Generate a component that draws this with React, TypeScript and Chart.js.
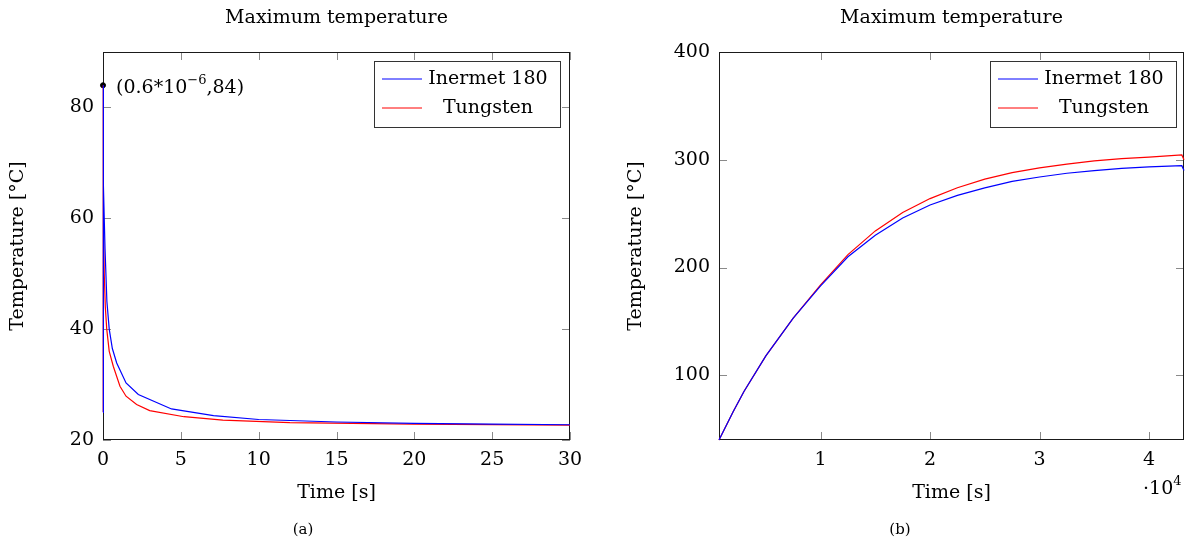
import React, { useEffect, useRef } from "react";
import { Chart, registerables } from "chart.js";
Chart.register(...registerables);

const FONT = "'DejaVu Serif', serif";
const FS = 19;

// ---------- (a) first 30 s ----------
const inermetTimeA = [0, 0.0000006, 0.05, 0.13, 0.25, 0.4, 0.6, 0.88, 1.48, 2.27, 4.4, 7.1, 10, 15, 20, 25, 30];
const inermetTempA = [25, 84, 66, 54.5, 45, 40, 36.5, 33.9, 30.3, 28.2, 25.6, 24.4, 23.7, 23.25, 23.0, 22.85, 22.75];
const tungstenTimeA = [0, 0.0000006, 0.03, 0.08, 0.15, 0.24, 0.4, 0.66, 1.09, 1.48, 2.16, 3.0, 5.2, 7.7, 12, 20, 30];
const tungstenTempA = [25, 84, 62, 50, 44, 40, 36, 33.3, 29.7, 27.9, 26.4, 25.3, 24.2, 23.6, 23.15, 22.85, 22.7];
const annotationPoint = [0.0000006, 84];
const xTicksA = [0, 5, 10, 15, 20, 25, 30];
const yTicksA = [20, 40, 60, 80];

// ---------- (b) 12 hours ----------
const timeB = [720, 2000, 3000, 5000, 7500, 10000, 12500, 15000, 17500, 20000, 22500, 25000, 27500, 30000, 32500, 35000, 37500, 40000, 43000, 43200];
const inermetTempB = [40, 66, 85, 118, 153, 183, 210, 230, 246, 258, 267, 274, 280, 284, 287.5, 290, 292, 293.5, 294.5, 290];
const tungstenTempB = [40, 66, 85, 118, 153, 184, 212, 234, 251, 264, 274, 282, 288, 292.5, 296, 299, 301, 302.5, 304.5, 300];
const xTicksB = [10000, 20000, 30000, 40000];
const xTickLabelsB = ["1", "2", "3", "4"];
const yTicksB = [100, 200, 300, 400];

const seriesNames = ["Inermet 180", "Tungsten"];
const seriesColors = ["#0000ff", "#ff0000"];
const chartTitle = "Maximum temperature";
const xAxisTitle = "Time [s]";
const yAxisTitle = "Temperature [°C]";

const zip = (xs: number[], ys: number[]) => xs.map((x, i) => ({ x, y: ys[i] }));

type Spec = {
  width: number;
  height: number;
  area: { left: number; top: number; right: number; bottom: number };
  datasets: any[];
  xMin: number; xMax: number; yMin: number; yMax: number;
  xTicks: number[]; xLabels: string[];
  yTicks: number[]; yLabels: string[];
  legend: { x: number; y: number; w: number; h: number };
  caption: string; captionX: number;
  yLabelX: number;
  extra?: (chart: any) => void;
};

const TL = 8;

function makePlugin(spec: Spec) {
  return {
    id: "decor",
    beforeDatasetsDraw(chart: any) {
      const { ctx, chartArea: a, scales } = chart;
      ctx.save();
      ctx.strokeStyle = "#8a8a8a";
      ctx.lineWidth = 1;
      ctx.beginPath();
      for (const v of spec.xTicks) {
        const px = Math.round(scales.x.getPixelForValue(v)) + 0.5;
        ctx.moveTo(px, a.bottom); ctx.lineTo(px, a.bottom - TL);
        ctx.moveTo(px, a.top); ctx.lineTo(px, a.top + TL);
      }
      for (const v of spec.yTicks) {
        const py = Math.round(scales.y.getPixelForValue(v)) + 0.5;
        ctx.moveTo(a.left, py); ctx.lineTo(a.left + TL, py);
        ctx.moveTo(a.right, py); ctx.lineTo(a.right - TL, py);
      }
      ctx.stroke();
      ctx.strokeStyle = "#1a1a1a";
      ctx.lineWidth = 1;
      ctx.strokeRect(Math.round(a.left) + 0.5, Math.round(a.top) + 0.5, Math.round(a.right - a.left) - 1, Math.round(a.bottom - a.top) - 1);
      ctx.restore();
    },
    afterDraw(chart: any) {
      const { ctx, chartArea: a } = chart;
      const cx = (a.left + a.right) / 2;
      ctx.save();
      ctx.fillStyle = "#000";
      ctx.font = `${FS}px ${FONT}`;
      ctx.textAlign = "center";
      ctx.textBaseline = "middle";
      ctx.fillText(chartTitle, cx, 18);
      ctx.fillText(xAxisTitle, cx, 493);
      ctx.save();
      ctx.translate(spec.yLabelX, (a.top + a.bottom) / 2);
      ctx.rotate(-Math.PI / 2);
      ctx.fillText(yAxisTitle, 0, 0);
      ctx.restore();
      ctx.font = `15px ${FONT}`;
      ctx.fillText(spec.caption, spec.captionX, 530);
      // legend
      const L = spec.legend;
      ctx.fillStyle = "#fff";
      ctx.fillRect(L.x, L.y, L.w, L.h);
      ctx.strokeStyle = "#333";
      ctx.lineWidth = 1;
      ctx.strokeRect(L.x + 0.5, L.y + 0.5, L.w, L.h);
      const rowY = [L.y + 18, L.y + 47];
      seriesNames.forEach((name, i) => {
        ctx.strokeStyle = seriesColors[i];
        ctx.lineWidth = 1;
        ctx.beginPath();
        ctx.moveTo(L.x + 8, rowY[i]);
        ctx.lineTo(L.x + 48, rowY[i]);
        ctx.stroke();
        ctx.fillStyle = "#000";
        ctx.font = `${FS}px ${FONT}`;
        ctx.textAlign = "center";
        ctx.textBaseline = "middle";
        ctx.fillText(name, L.x + 114, rowY[i]);
      });
      if (spec.extra) spec.extra(chart);
      ctx.restore();
    },
  };
}

function buildConfig(spec: Spec): any {
  const { area, width, height } = spec;
  return {
    type: "line",
    data: { datasets: spec.datasets },
    plugins: [makePlugin(spec)],
    options: {
      responsive: false,
      animation: false,
      events: [],
      layout: { padding: { left: 0, top: area.top, right: width - area.right, bottom: 0 } },
      plugins: { legend: { display: false }, tooltip: { enabled: false }, title: { display: false } },
      scales: {
        x: {
          type: "linear",
          min: spec.xMin,
          max: spec.xMax,
          grid: { display: false, drawTicks: false },
          border: { display: false },
          afterBuildTicks: (s: any) => { s.ticks = spec.xTicks.map((v) => ({ value: v })); },
          afterFit: (s: any) => { s.height = height - area.bottom; },
          ticks: {
            autoSkip: false,
            maxRotation: 0,
            padding: 9,
            color: "#000",
            font: { family: FONT, size: FS },
            callback: (v: number) => { const i = spec.xTicks.indexOf(v); return i >= 0 ? spec.xLabels[i] : ""; },
          },
        },
        y: {
          type: "linear",
          min: spec.yMin,
          max: spec.yMax,
          grid: { display: false, drawTicks: false },
          border: { display: false },
          afterBuildTicks: (s: any) => { s.ticks = spec.yTicks.map((v) => ({ value: v })); },
          afterFit: (s: any) => { s.width = area.left; },
          ticks: {
            autoSkip: false,
            padding: 9,
            color: "#000",
            font: { family: FONT, size: FS },
            callback: (v: number) => { const i = spec.yTicks.indexOf(v); return i >= 0 ? spec.yLabels[i] : ""; },
          },
        },
      },
    },
  };
}

const lineDs = (label: string, data: any[], color: string) => ({
  label,
  data,
  borderColor: color,
  backgroundColor: color,
  borderWidth: 1.2,
  pointRadius: 0,
  tension: 0,
  fill: false,
  clip: false,
});

const specA: Spec = {
  width: 600,
  height: 542,
  area: { left: 103, top: 52, right: 570, bottom: 440 },
  datasets: [
    lineDs(seriesNames[0], zip(inermetTimeA, inermetTempA), seriesColors[0]),
    lineDs(seriesNames[1], zip(tungstenTimeA, tungstenTempA), seriesColors[1]),
    {
      label: "point",
      data: [{ x: annotationPoint[0], y: annotationPoint[1] }],
      showLine: false,
      pointRadius: 2.5,
      pointBackgroundColor: "#000",
      pointBorderColor: "#000",
      borderColor: "#000",
      clip: false,
    },
  ],
  xMin: 0, xMax: 30, yMin: 20, yMax: 90,
  xTicks: xTicksA, xLabels: xTicksA.map(String),
  yTicks: yTicksA, yLabels: yTicksA.map(String),
  legend: { x: 374, y: 61, w: 186, h: 66 },
  caption: "(a)", captionX: 303,
  yLabelX: 18,
  extra: (chart: any) => {
    const { ctx, scales } = chart;
    const px = scales.x.getPixelForValue(annotationPoint[0]);
    const py = scales.y.getPixelForValue(annotationPoint[1]);
    ctx.fillStyle = "#000";
    ctx.textAlign = "left";
    ctx.textBaseline = "alphabetic";
    let x = px + 13;
    const base = py + 8;
    ctx.font = `${FS}px ${FONT}`;
    const p1 = "(0.6*10";
    ctx.fillText(p1, x, base);
    x += ctx.measureText(p1).width;
    ctx.font = `13px ${FONT}`;
    const p2 = "−6";
    ctx.fillText(p2, x, base - 9);
    x += ctx.measureText(p2).width;
    ctx.font = `${FS}px ${FONT}`;
    ctx.fillText(",84)", x, base);
  },
};

const specB: Spec = {
  width: 587,
  height: 542,
  area: { left: 119, top: 52, right: 584, bottom: 440 },
  datasets: [
    lineDs(seriesNames[0], zip(timeB, inermetTempB), seriesColors[0]),
    lineDs(seriesNames[1], zip(timeB, tungstenTempB), seriesColors[1]),
  ],
  xMin: 720, xMax: 43200, yMin: 40, yMax: 400,
  xTicks: xTicksB, xLabels: xTickLabelsB,
  yTicks: yTicksB, yLabels: yTicksB.map(String),
  legend: { x: 390, y: 61, w: 186, h: 66 },
  caption: "(b)", captionX: 300,
  yLabelX: 36,
  extra: (chart: any) => {
    const { ctx } = chart;
    ctx.fillStyle = "#000";
    ctx.textAlign = "left";
    ctx.textBaseline = "alphabetic";
    let x = 543;
    const base = 494;
    ctx.font = `${FS}px ${FONT}`;
    ctx.fillText("·10", x, base);
    x += ctx.measureText("·10").width;
    ctx.font = `13px ${FONT}`;
    ctx.fillText("4", x, base - 9);
  },
};

export default function App() {
  const leftRef = useRef<HTMLCanvasElement>(null);
  const rightRef = useRef<HTMLCanvasElement>(null);
  useEffect(() => {
    const c1 = new Chart(leftRef.current as HTMLCanvasElement, buildConfig(specA));
    const c2 = new Chart(rightRef.current as HTMLCanvasElement, buildConfig(specB));
    return () => { c1.destroy(); c2.destroy(); };
  }, []);
  return (
    <div style={{ position: "fixed", left: 0, top: 0, width: 1187, height: 542, background: "#fff" }}>
      <canvas ref={leftRef} width={600} height={542} style={{ position: "absolute", left: 0, top: 0 }} />
      <canvas ref={rightRef} width={587} height={542} style={{ position: "absolute", left: 600, top: 0 }} />
    </div>
  );
}
